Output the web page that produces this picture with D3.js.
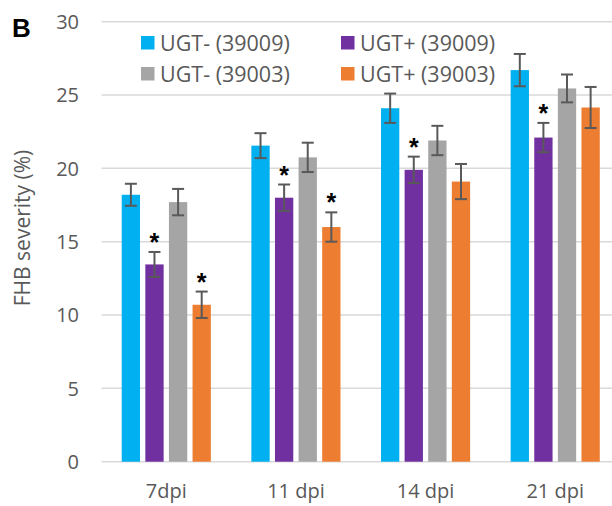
<!DOCTYPE html>
<html>
<head>
<meta charset="utf-8">
<script src="https://cdn.jsdelivr.net/npm/d3@7"></script>
<style>
  body { margin: 0; background: #fff; }
  svg { display: block; }
</style>
</head>
<body>
<svg id="chart"></svg>
<script>
// data
const categories = ["7dpi", "11 dpi", "14 dpi", "21 dpi"];
const seriesNames = ["UGT- (39009)", "UGT+ (39009)", "UGT- (39003)", "UGT+ (39003)"];
const seriesColors = ["#00B0F0", "#7030A0", "#A5A5A5", "#ED7D31"];
const means = [
  [18.2, 21.55, 24.1, 26.7],
  [13.45, 18.0, 19.9, 22.1],
  [17.7, 20.75, 21.9, 25.45],
  [10.7, 16.0, 19.1, 24.15]
];
const errors = [
  [0.75, 0.85, 1.0, 1.1],
  [0.85, 0.9, 0.9, 1.0],
  [0.9, 1.0, 1.0, 0.95],
  [0.9, 1.0, 1.2, 1.4]
];
const significant = [
  [false, false, false, false],
  [true, true, true, true],
  [false, false, false, false],
  [true, true, false, false]
];
const yTicks = [0, 5, 10, 15, 20, 25, 30];

const width = 612, height = 506;
const svg = d3.select("#chart").attr("width", width).attr("height", height);

const x0 = d3.scaleBand()
  .domain(categories)
  .range([101.5, 620])
  .paddingInner(0.3125)
  .paddingOuter(0.156);

const x1 = d3.scaleBand()
  .domain(d3.range(seriesNames.length))
  .range([0, x0.bandwidth()])
  .paddingInner(0.2246)
  .paddingOuter(0);

const y = d3.scaleLinear().domain([0, 30]).range([461.7, 21.7]);

const textColor = "#595959";
const font = "'Open Sans', sans-serif";

// gridlines
svg.append("g")
  .selectAll("line")
  .data(yTicks)
  .join("line")
    .attr("x1", 101.5)
    .attr("x2", 620)
    .attr("y1", d => y(d))
    .attr("y2", d => y(d))
    .attr("stroke", "#D9D9D9")
    .attr("stroke-width", 1.5);

// y tick labels
svg.append("g")
  .selectAll("text")
  .data(yTicks)
  .join("text")
    .attr("x", 79)
    .attr("y", d => y(d))
    .attr("dy", "0.36em")
    .attr("text-anchor", "end")
    .style("font", `20px ${font}`)
    .attr("fill", textColor)
    .text(d => d);

// bars
const rows = [];
seriesNames.forEach((s, i) => {
  categories.forEach((c, j) => {
    rows.push({ s: i, c: c, v: means[i][j], e: errors[i][j], sig: significant[i][j] });
  });
});

svg.append("g")
  .selectAll("rect")
  .data(rows)
  .join("rect")
    .attr("x", d => x0(d.c) + x1(d.s))
    .attr("y", d => y(d.v))
    .attr("width", x1.bandwidth())
    .attr("height", d => y(0) - y(d.v))
    .attr("fill", d => seriesColors[d.s]);

// error bars
const eb = svg.append("g")
  .attr("stroke", "#595959")
  .attr("stroke-width", 2)
  .selectAll("g")
  .data(rows)
  .join("g")
    .attr("transform", d => `translate(${x0(d.c) + x1(d.s) + x1.bandwidth() / 2},0)`);

eb.append("line")
  .attr("y1", d => y(d.v + d.e))
  .attr("y2", d => y(d.v - d.e));
eb.append("line")
  .attr("x1", -6).attr("x2", 6)
  .attr("y1", d => y(d.v + d.e))
  .attr("y2", d => y(d.v + d.e));
eb.append("line")
  .attr("x1", -6).attr("x2", 6)
  .attr("y1", d => y(d.v - d.e))
  .attr("y2", d => y(d.v - d.e));

// significance stars
svg.append("g")
  .selectAll("text")
  .data(rows.filter(d => d.sig))
  .join("text")
    .attr("x", d => x0(d.c) + x1(d.s) + x1.bandwidth() / 2)
    .attr("y", d => y(d.v + d.e) - 1)
    .attr("text-anchor", "middle")
    .style("font", "bold 25px 'Liberation Sans', Arial, sans-serif")
    .attr("fill", "#000")
    .text("*");

// x labels
svg.append("g")
  .selectAll("text")
  .data(categories)
  .join("text")
    .attr("x", d => x0(d) + x0.bandwidth() / 2)
    .attr("y", 498)
    .attr("text-anchor", "middle")
    .style("font", `20px ${font}`)
    .attr("fill", textColor)
    .text(d => d);

// y axis title
svg.append("text")
  .attr("transform", "translate(30,228) rotate(-90)")
  .attr("text-anchor", "middle")
  .style("font", `21px ${font}`)
  .attr("fill", textColor)
  .text("FHB severity (%)");

// legend
const legendX = [141, 341];
const legendY = [36, 67];
const legend = svg.append("g")
  .selectAll("g")
  .data(seriesNames)
  .join("g")
    .attr("transform", (d, i) => `translate(${legendX[i % 2]},${legendY[Math.floor(i / 2)]})`);
legend.append("rect")
  .attr("width", 13.5)
  .attr("height", 13.5)
  .attr("fill", (d, i) => seriesColors[i]);
legend.append("text")
  .attr("x", 19)
  .attr("y", 15)
  .style("font", `21.5px ${font}`)
  .attr("fill", textColor)
  .text(d => d);

// panel letter
svg.append("text")
  .attr("x", 12)
  .attr("y", 36.5)
  .style("font", "bold 26px 'Liberation Sans', Arial, sans-serif")
  .attr("fill", "#000")
  .text("B");
</script>
</body>
</html>
